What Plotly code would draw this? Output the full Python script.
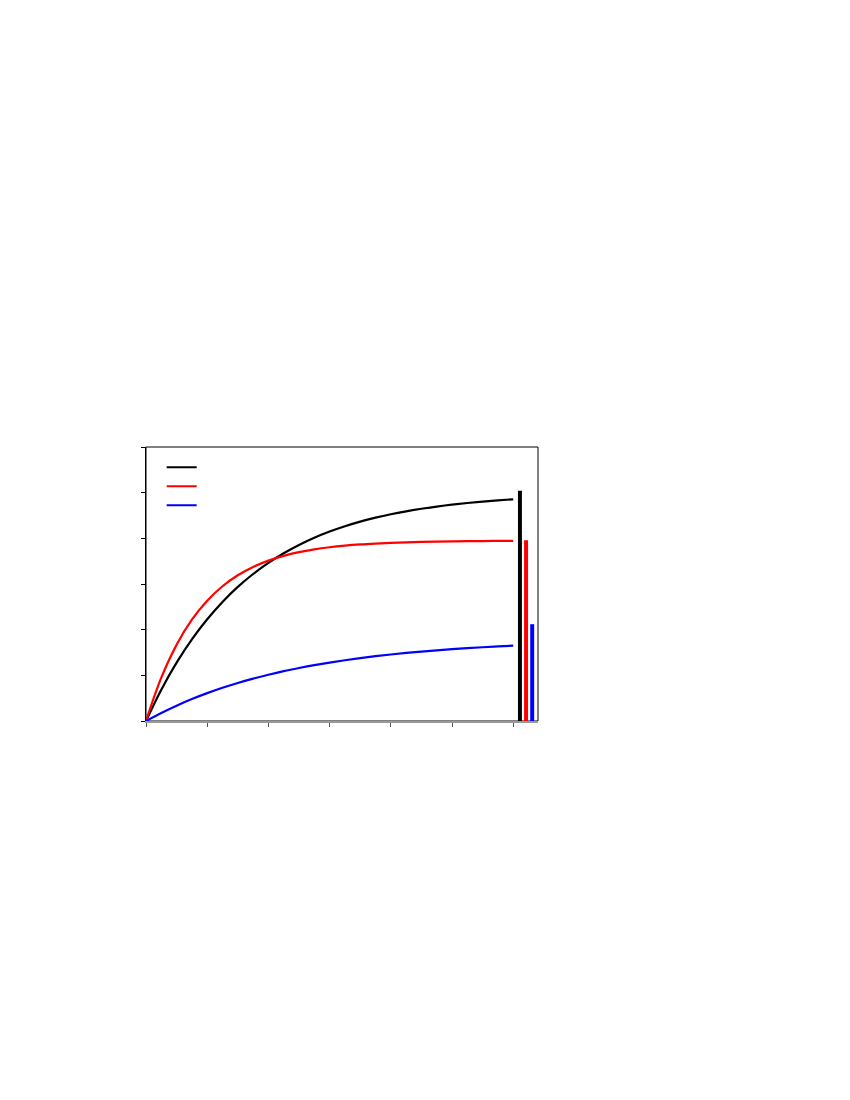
import plotly.graph_objects as go

# time axis (0..60, ticks every 10)
time = [0, 2.5, 5, 7.5, 10, 12.5, 15, 17.5, 20, 22.5, 25, 27.5, 30, 32.5,
        35, 37.5, 40, 42.5, 45, 47.5, 50, 52.5, 55, 57.5, 60]

# curves
black_curve = [0, 6.86, 12.77, 17.87, 22.28, 26.08, 29.36, 32.19, 34.63, 36.74,
               38.56, 40.13, 41.48, 42.65, 43.66, 44.53, 45.28, 45.92, 46.48,
               46.96, 47.38, 47.74, 48.05, 48.32, 48.55]
red_curve = [0, 9.50, 16.71, 22.19, 26.35, 29.51, 31.91, 33.74, 35.12, 36.17,
             36.97, 37.58, 38.04, 38.39, 38.66, 38.86, 39.01, 39.13, 39.22,
             39.29, 39.34, 39.38, 39.41, 39.43, 39.45]
blue_curve = [0, 1.77, 3.36, 4.80, 6.10, 7.27, 8.33, 9.28, 10.13, 10.91,
              11.60, 12.23, 12.80, 13.31, 13.77, 14.19, 14.56, 14.90, 15.20,
              15.48, 15.73, 15.95, 16.15, 16.33, 16.50]

# end-point bars
bar_x = [61.1, 62.1, 63.1]
bar_values = [50.4, 39.6, 21.2]
colors = ["#000000", "#ff0000", "#0000ff"]

fig = go.Figure()

for ys, c in zip([black_curve, red_curve, blue_curve], colors):
    fig.add_trace(go.Scatter(
        x=time, y=ys, mode="lines", name="\u00a0",
        line=dict(color=c, width=2.2, shape="spline", smoothing=1),
    ))

fig.add_trace(go.Bar(
    x=bar_x, y=bar_values, width=0.65,
    marker=dict(color=colors, line=dict(width=0)),
    showlegend=False,
))

# frame (top/right black)
fig.add_shape(type="rect", xref="paper", yref="paper", x0=0, y0=0, x1=1, y1=1,
              line=dict(color="black", width=1), layer="below")

fig.update_layout(
    width=850, height=1100,
    margin=dict(l=138, r=320, t=439, b=387),
    paper_bgcolor="white", plot_bgcolor="white",
    showlegend=True,
    legend=dict(
        x=0.04, y=0.979, xanchor="left", yanchor="top",
        bgcolor="rgba(0,0,0,0)", font=dict(size=8, family="Arial"),
        tracegroupgap=0, itemwidth=30,
    ),
    xaxis=dict(
        range=[0, 64.05], tick0=0, dtick=10, showgrid=False, zeroline=False,
        showline=True, linecolor="#999999", linewidth=2,
        ticks="outside", ticklen=4, tickcolor="#555555", tickwidth=1,
        showticklabels=False,
    ),
    yaxis=dict(
        range=[0, 60], tick0=0, dtick=10, showgrid=False, zeroline=False,
        showline=True, linecolor="black", linewidth=1,
        ticks="outside", ticklen=4, tickcolor="black", tickwidth=1,
        showticklabels=False,
    ),
)

fig.write_html("out.html")
